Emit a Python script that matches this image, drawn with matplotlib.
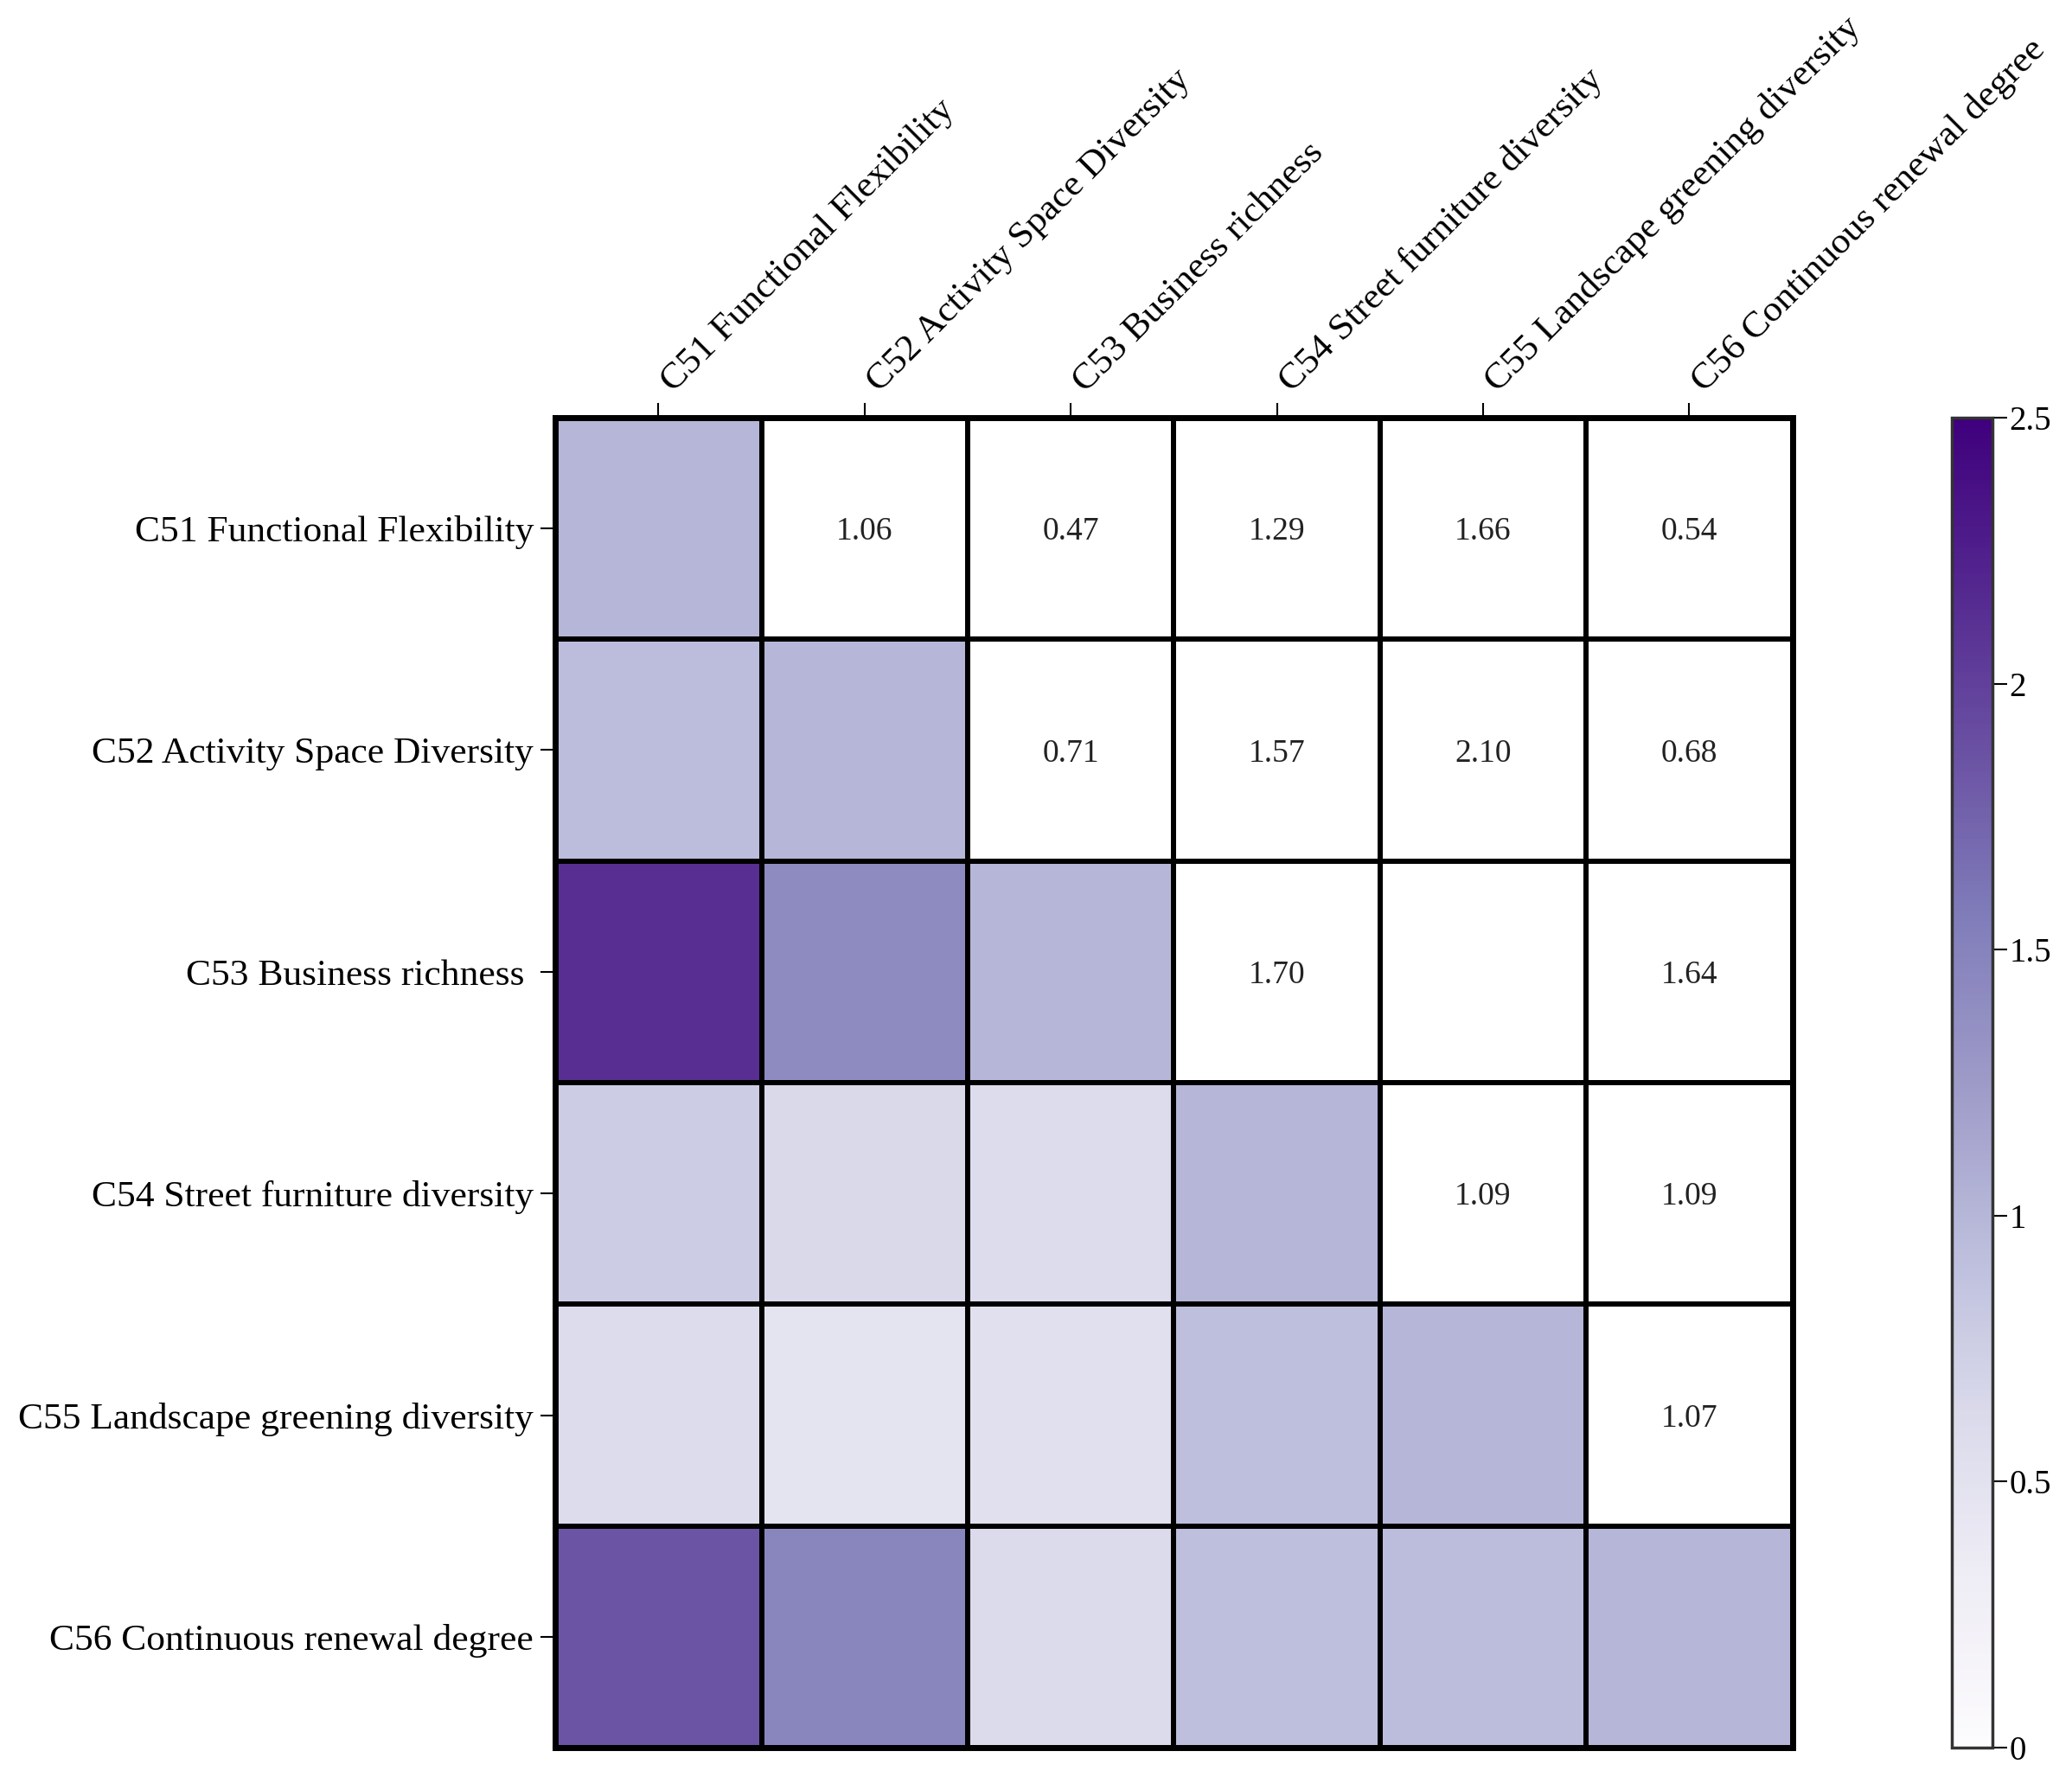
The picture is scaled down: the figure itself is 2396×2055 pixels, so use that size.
import numpy as np
import matplotlib
matplotlib.use('Agg')
import matplotlib.pyplot as plt
import matplotlib.transforms as mtransforms

plt.rcParams['font.family'] = ['Liberation Serif', 'DejaVu Serif']

# Indicator names
labels = ['C51 Functional Flexibility', 'C52 Activity Space Diversity',
          'C53 Business richness', 'C54 Street furniture diversity',
          'C55 Landscape greening diversity', 'C56 Continuous renewal degree']
yLabels = ['C51 Functional Flexibility', 'C52 Activity Space Diversity',
           'C53 Business richness ', 'C54 Street furniture diversity',
           'C55 Landscape greening diversity', 'C56 Continuous renewal degree']

# Upper triangle: printed numbers (None = no number shown)
upperText = [
    [None, '1.06', '0.47', '1.29', '1.66', '0.54'],
    [None, None, '0.71', '1.57', '2.10', '0.68'],
    [None, None, None, '1.70', None, '1.64'],
    [None, None, None, None, '1.09', '1.09'],
    [None, None, None, None, None, '1.07'],
    [None, None, None, None, None, None],
]

# Lower triangle + diagonal: colour values
lowerValues = [
    [1.00, None, None, None, None, None],
    [0.94, 1.00, None, None, None, None],
    [2.13, 1.41, 1.00, None, None, None],
    [0.78, 0.64, 0.59, 1.00, None, None],
    [0.60, 0.48, 0.52, 0.92, 1.00, None],
    [1.85, 1.47, 0.61, 0.92, 0.94, 1.00],
]

n = len(labels)
grid = np.array([[np.nan if v is None else v for v in row] for row in lowerValues])
masked = np.ma.masked_invalid(grid)

fig = plt.figure(figsize=(23.96, 20.55), dpi=100)
ax = fig.add_axes([0.268, 0.0165, 0.597, 0.7485])
cax = fig.add_axes([0.942, 0.0165, 0.0196, 0.7485])

cmap = plt.get_cmap('Purples').copy()
cmap.set_bad('white')
mesh = ax.pcolormesh(np.arange(n + 1), np.arange(n + 1), masked, cmap=cmap,
                     vmin=0, vmax=2.5, edgecolors='black', linewidth=3)
ax.set_xlim(0, n)
ax.set_ylim(n, 0)

# draw white cells' borders too
for k in range(n + 1):
    ax.axhline(k, color='black', linewidth=3, zorder=3)
    ax.axvline(k, color='black', linewidth=3, zorder=3)

for i in range(n):
    for j in range(n):
        t = upperText[i][j]
        if t is not None:
            ax.text(j + 0.5, i + 0.5, t, ha='center', va='center_baseline',
                    fontsize=27, color='#222222')

ax.xaxis.tick_top()
ax.set_xticks(np.arange(n) + 0.5)
ax.set_xticklabels([''] * n)
# top labels placed by hand so the rotated text starts right at the tick
offset = mtransforms.ScaledTranslation(0.17, 0.28, fig.dpi_scale_trans)
for j, name in enumerate(labels):
    ax.text(j + 0.5, 0, name, transform=ax.transData + offset, rotation=45,
            ha='left', va='baseline', rotation_mode='anchor', fontsize=31.3,
            clip_on=False)

ax.set_yticks(np.arange(n) + 0.5)
ax.set_yticklabels(yLabels, fontsize=31.3)
ax.tick_params(axis='both', length=12, width=1.5, pad=6)
for s in ax.spines.values():
    s.set_linewidth(5)
    s.set_zorder(4)

cb = fig.colorbar(mesh, cax=cax, ticks=[0, 0.5, 1, 1.5, 2, 2.5])
cb.ax.set_yticklabels(['0', '0.5', '1', '1.5', '2', '2.5'])
cb.ax.tick_params(labelsize=28, length=12, width=1.5, pad=2)
cb.outline.set_linewidth(2.5)
cb.outline.set_edgecolor('#333333')

plt.savefig('out.png', dpi=100)
